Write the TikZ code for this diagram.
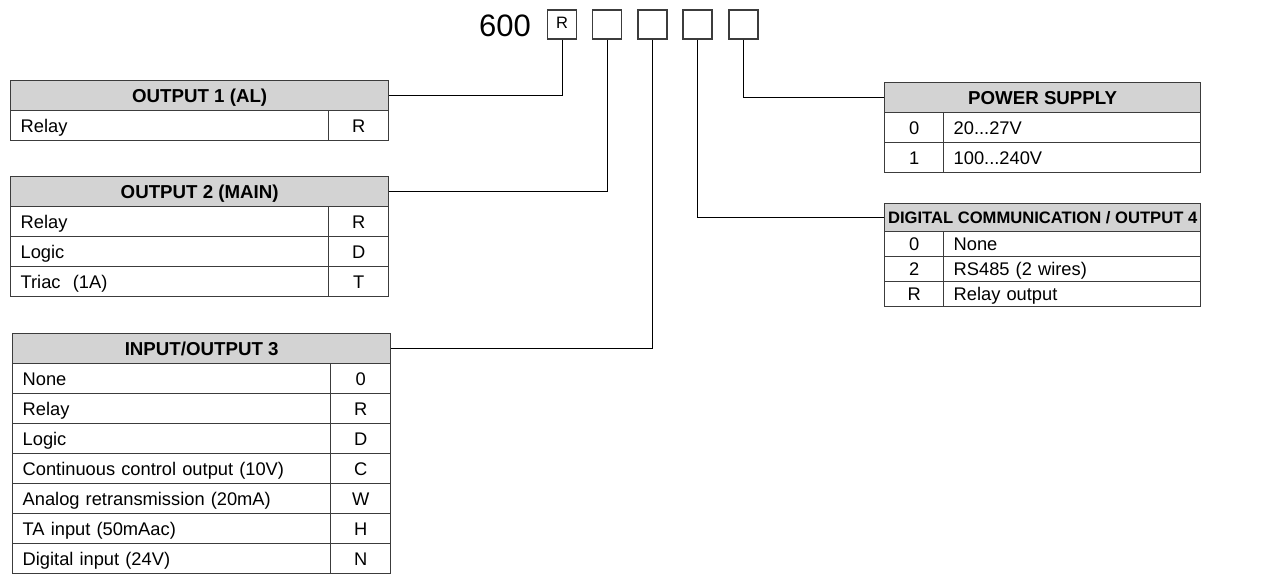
\documentclass[tikz,border=0pt]{standalone}
\usepackage{fontspec}
\setmainfont{Liberation Sans}
\usetikzlibrary{positioning}

\definecolor{headgray}{RGB}{211,211,211}
\definecolor{framegray}{RGB}{60,60,60}

\tikzset{
  codebox/.style={draw=framegray,line width=1.3pt,minimum size=29pt,inner sep=0pt,text depth=4pt,font=\fontsize{16.5}{18}\selectfont},
  head/.style={draw=framegray,fill=headgray,line width=1.3pt,anchor=north west,inner sep=0pt,minimum height=30pt,text height=13.4pt,text depth=0pt,font=\fontsize{18.7}{20}\selectfont\bfseries},
  txtcell/.style={draw=framegray,line width=1.3pt,anchor=north west,inner xsep=10pt,inner ysep=0pt,minimum height=30pt,text height=13.1pt,text depth=0pt,align=left,font=\fontsize{18.3}{20}\selectfont},
  codecell/.style={draw=framegray,line width=1.3pt,anchor=north west,inner sep=0pt,minimum height=30pt,text height=13.1pt,text depth=0pt,font=\fontsize{18.3}{20}\selectfont},
  wire/.style={line width=1pt}
}

\begin{document}
\begin{tikzpicture}[x=1pt,y=-1pt]
  \useasboundingbox (0,0) rectangle (1265,573);
  % order code
  \node[font=\fontsize{31}{33}\selectfont] (code) at (505,26) {600};
  \node[codebox] (b1) at (562,24.5) {R};
  \node[codebox] (b2) at (607,24.5) {};
  \node[codebox] (b3) at (652.5,24.5) {};
  \node[codebox] (b4) at (697.5,24.5) {};
  \node[codebox] (b5) at (743.5,24.5) {};
  % output 1
  \node[head,minimum width=378pt] (o1h) at (10,80) {OUTPUT 1 (AL)};
  \node[txtcell,text width=298pt] (o1t1) at (10,110) {Relay};
  \node[codecell,minimum width=60pt] (o1c1) at (328,110) {R};
  % output 2
  \node[head,minimum width=378pt] (o2h) at (10,176) {OUTPUT 2 (MAIN)};
  \node[txtcell,text width=298pt] (o2t1) at (10,206) {Relay};
  \node[codecell,minimum width=60pt] (o2c1) at (328,206) {R};
  \node[txtcell,text width=298pt] (o2t2) at (10,236) {Logic};
  \node[codecell,minimum width=60pt] (o2c2) at (328,236) {D};
  \node[txtcell,text width=298pt] (o2t3) at (10,266) {Triac~~(1A)};
  \node[codecell,minimum width=60pt] (o2c3) at (328,266) {T};
  % input/output 3
  \node[head,minimum width=378pt] (io3h) at (12,333) {INPUT/OUTPUT 3};
  \node[txtcell,text width=298pt] (io3t1) at (12,363) {None};
  \node[codecell,minimum width=60pt] (io3c1) at (330,363) {0};
  \node[txtcell,text width=298pt] (io3t2) at (12,393) {Relay};
  \node[codecell,minimum width=60pt] (io3c2) at (330,393) {R};
  \node[txtcell,text width=298pt] (io3t3) at (12,423) {Logic};
  \node[codecell,minimum width=60pt] (io3c3) at (330,423) {D};
  \node[txtcell,text width=298pt] (io3t4) at (12,453) {Continuous control output (10V)};
  \node[codecell,minimum width=60pt] (io3c4) at (330,453) {C};
  \node[txtcell,text width=298pt] (io3t5) at (12,483) {Analog retransmission (20mA)};
  \node[codecell,minimum width=60pt] (io3c5) at (330,483) {W};
  \node[txtcell,text width=298pt] (io3t6) at (12,513) {TA input (50mAac)};
  \node[codecell,minimum width=60pt] (io3c6) at (330,513) {H};
  \node[txtcell,text width=298pt] (io3t7) at (12,543) {Digital input (24V)};
  \node[codecell,minimum width=60pt] (io3c7) at (330,543) {N};
  % power supply
  \node[head,minimum width=316pt] (psh) at (884,82) {POWER SUPPLY};
  \node[codecell,minimum width=59pt] (psc1) at (884,112) {0};
  \node[txtcell,text width=237pt] (pst1) at (943,112) {20...27V};
  \node[codecell,minimum width=59pt] (psc2) at (884,142) {1};
  \node[txtcell,text width=237pt] (pst2) at (943,142) {100...240V};
  % digital communication
  \node[head,minimum width=316pt,minimum height=28pt,text height=12pt,font=\fontsize{16.6}{18}\selectfont\bfseries] (dch) at (884,203) {DIGITAL COMMUNICATION / OUTPUT 4};
  \node[codecell,minimum width=59pt,minimum height=25pt] (dcc1) at (884,231) {0};
  \node[txtcell,text width=237pt,minimum height=25pt] (dct1) at (943,231) {None};
  \node[codecell,minimum width=59pt,minimum height=25pt] (dcc2) at (884,256) {2};
  \node[txtcell,text width=237pt,minimum height=25pt] (dct2) at (943,256) {RS485 (2 wires)};
  \node[codecell,minimum width=59pt,minimum height=25pt] (dcc3) at (884,281) {R};
  \node[txtcell,text width=237pt,minimum height=25pt] (dct3) at (943,281) {Relay output};
  % connectors
  \draw[wire] (b1.south) |- (o1h.east);
  \draw[wire] (b2.south) |- (o2h.east);
  \draw[wire] (b3.south) |- (io3h.east);
  \draw[wire] (b4.south) |- (dch.west);
  \draw[wire] (b5.south) |- (psh.west);
\end{tikzpicture}
\end{document}
